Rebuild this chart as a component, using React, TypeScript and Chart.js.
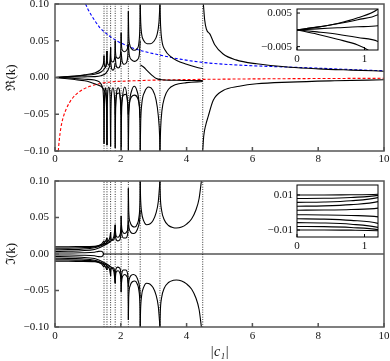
import React, { useEffect, useRef } from "react";
import Chart from "chart.js/auto";

// ---------- data ----------
const POLES = [1.49, 1.58, 1.69, 1.83, 2.01, 2.23, 2.59, 3.19, 4.49];
const X_TICKS = [0, 2, 4, 6, 8, 10];
const RE_TICKS = [-0.1, -0.05, 0, 0.05, 0.1];
const IM_TICKS = [-0.1, -0.05, 0, 0.05, 0.1];
const INSET_X_TICKS = [0, 1];
const RE_INSET_TICKS = [-0.005, 0.005];
const IM_INSET_TICKS = [-0.01, 0.01];

const reBlue = [[0.93, 0.1], [1.0, 0.093], [1.1, 0.085], [1.2, 0.078], [1.36, 0.068], [1.5, 0.062], [1.87, 0.05], [2.2, 0.043], [2.58, 0.037], [3.19, 0.0305], [3.8, 0.025], [4.4, 0.021], [5, 0.0185], [6, 0.016], [7, 0.0143], [8, 0.0127], [9, 0.0108], [10, 0.0091]];
const reRed = [[0.1, -0.1], [0.13, -0.085], [0.18, -0.068], [0.25, -0.054], [0.35, -0.042], [0.5, -0.03], [0.75, -0.019], [1.06, -0.012], [1.56, -0.0068], [2.37, -0.0045], [3, -0.0036], [4, -0.0028], [5, -0.0023], [6, -0.0019], [8, -0.0014], [10, -0.0011]];

const reInitA = [[0, 0], [0.3, 0.0008], [0.6, 0.0019], [0.9, 0.0036], [1.2, 0.0062], [1.35, 0.0095], [1.44, 0.015], [1.48, 0.022], [1.49, 0.03]];
const reInitB = [[0, 0], [0.3, 0.0008], [0.6, 0.0018], [0.9, 0.003], [1.2, 0.0045], [1.4, 0.0075], [1.5, 0.012], [1.56, 0.02], [1.58, 0.036]];
const reInitC = [[0, 0], [0.3, 0.0003], [0.6, 0.0006], [0.9, 0.0009], [1.2, 0.0012], [1.4, 0.0025], [1.55, 0.006], [1.64, 0.013], [1.68, 0.024], [1.69, 0.041]];
const reInitD = [[0, 0], [0.3, -0.0006], [0.6, -0.0013], [0.9, -0.0023], [1.2, -0.0035], [1.35, -0.006], [1.44, -0.013], [1.48, -0.035], [1.49, -0.09]];
const reInitE = [[0, 0], [0.3, -0.0013], [0.6, -0.0028], [0.9, -0.0045], [1.05, -0.006], [1.2, -0.0085], [1.4, -0.012], [1.52, -0.02], [1.57, -0.045], [1.58, -0.092]];

const reUp0 = [[1.49, 0.03], [1.5, 0.018], [1.535, 0.014], [1.57, 0.02], [1.58, 0.036]];
const reUp1 = [[1.58, 0.036], [1.59, 0.022], [1.635, 0.017], [1.68, 0.024], [1.69, 0.041]];
const reUp2 = [[1.69, 0.041], [1.7, 0.027], [1.72, 0.022], [1.76, 0.021], [1.8, 0.024], [1.82, 0.032], [1.83, 0.05]];
const reUp3 = [[1.83, 0.05], [1.84, 0.034], [1.86, 0.028], [1.92, 0.026], [1.97, 0.028], [2.0, 0.038], [2.01, 0.061]];
const reUp4 = [[2.01, 0.061], [2.02, 0.045], [2.05, 0.037], [2.12, 0.035], [2.19, 0.038], [2.22, 0.05], [2.23, 0.09]];
const reUp5 = [[2.23, 0.09], [2.24, 0.06], [2.27, 0.045], [2.33, 0.039], [2.41, 0.037], [2.49, 0.039], [2.55, 0.047], [2.58, 0.07], [2.59, 0.1]];
const reUp6 = [[2.59, 0.1], [2.605, 0.075], [2.63, 0.06], [2.7, 0.05], [2.8, 0.046], [2.9, 0.046], [3.0, 0.049], [3.1, 0.058], [3.16, 0.075], [3.19, 0.1]];
const reUpTail = [[3.19, 0.1], [3.21, 0.07], [3.25, 0.05], [3.35, 0.037], [3.5, 0.029], [3.7, 0.023], [4.0, 0.018], [4.3, 0.014], [4.49, 0.012]];
const reUpFar = [[4.51, 0.1], [4.55, 0.078], [4.6, 0.066], [4.71, 0.059], [4.85, 0.045], [5.11, 0.032], [5.5, 0.024], [6.13, 0.0186], [7.14, 0.014], [8, 0.0118], [9, 0.0101], [10, 0.0086]];
const reUpS2 = [[1.69, 0.022], [1.72, 0.012], [1.76, 0.01], [1.8, 0.012], [1.83, 0.02]];
const reUpS3 = [[1.83, 0.028], [1.86, 0.016], [1.92, 0.013], [1.98, 0.016], [2.01, 0.03]];
const reUpS4 = [[2.01, 0.035], [2.04, 0.022], [2.1, 0.018], [2.17, 0.02], [2.21, 0.028], [2.23, 0.045]];
const reUpS5 = [[2.23, 0.045], [2.26, 0.03], [2.33, 0.024], [2.42, 0.022], [2.5, 0.024], [2.56, 0.03], [2.59, 0.05]];

const reLo0 = [[1.49, -0.09], [1.5, -0.04], [1.51, -0.022], [1.535, -0.014], [1.56, -0.022], [1.57, -0.04], [1.58, -0.092]];
const reLo1 = [[1.58, -0.092], [1.59, -0.04], [1.6, -0.022], [1.635, -0.013], [1.67, -0.022], [1.68, -0.04], [1.69, -0.094]];
const reLo2 = [[1.69, -0.094], [1.7, -0.045], [1.715, -0.025], [1.76, -0.014], [1.805, -0.025], [1.82, -0.045], [1.83, -0.096]];
const reLo3 = [[1.83, -0.096], [1.84, -0.05], [1.86, -0.027], [1.92, -0.014], [1.98, -0.027], [2.0, -0.05], [2.01, -0.1]];
const reLo4 = [[2.01, -0.1], [2.02, -0.055], [2.05, -0.028], [2.12, -0.013], [2.19, -0.028], [2.22, -0.055], [2.23, -0.1]];
const reLo5 = [[2.23, -0.1], [2.24, -0.06], [2.27, -0.033], [2.33, -0.018], [2.41, -0.012], [2.49, -0.018], [2.55, -0.033], [2.58, -0.06], [2.59, -0.1]];
const reLo6 = [[2.59, -0.1], [2.605, -0.06], [2.64, -0.035], [2.72, -0.02], [2.85, -0.013], [2.97, -0.017], [3.07, -0.03], [3.14, -0.052], [3.18, -0.08], [3.19, -0.1]];
const reLoTail = [[3.19, -0.1], [3.21, -0.07], [3.25, -0.045], [3.33, -0.027], [3.45, -0.016], [3.65, -0.01], [4.0, -0.007], [4.49, -0.0055]];
const reLoFar = [[4.49, -0.1], [4.52, -0.08], [4.58, -0.065], [4.65, -0.054], [4.81, -0.031], [5.11, -0.0177], [5.6, -0.012], [6.13, -0.0086], [7.14, -0.0063], [8.5, -0.0045], [10, -0.0031]];
const reLoS3 = [[1.83, -0.05], [1.85, -0.03], [1.89, -0.022], [1.95, -0.021], [1.99, -0.03], [2.01, -0.045]];
const reLoS4 = [[2.01, -0.05], [2.03, -0.033], [2.08, -0.024], [2.15, -0.023], [2.21, -0.033], [2.23, -0.05]];
const reLoS5 = [[2.23, -0.05], [2.26, -0.035], [2.33, -0.026], [2.42, -0.024], [2.51, -0.028], [2.57, -0.04], [2.59, -0.055]];
const reDiag = [[2.6, 0.017], [2.7, 0.014], [2.8, 0.0095], [2.95, 0.003], [3.08, -0.0015], [3.25, -0.003], [3.7, -0.0038], [4.49, -0.0042]];

const imU0 = [[0, 0.01], [0.4, 0.01], [0.8, 0.0101], [1.2, 0.0104], [1.32, 0.0115], [1.42, 0.014], [1.47, 0.017], [1.49, 0.018]];
const imU1 = [[0, 0.008], [0.4, 0.0081], [0.8, 0.0086], [1.2, 0.0098], [1.35, 0.0115], [1.47, 0.014], [1.54, 0.018], [1.58, 0.022]];
const imU2 = [[0, 0.0058], [0.4, 0.006], [0.8, 0.0067], [1.2, 0.0085], [1.35, 0.0105], [1.5, 0.0135], [1.62, 0.018], [1.67, 0.023], [1.69, 0.03]];
const imU3 = [[0, 0.0036], [0.4, 0.0038], [0.8, 0.0045], [1.2, 0.0062], [1.35, 0.0085], [1.5, 0.012], [1.68, 0.017], [1.79, 0.024], [1.83, 0.04]];
const imU4 = [[0, 0.0013], [0.4, 0.0014], [0.8, 0.0017], [1.2, 0.0025], [1.32, 0.0036], [1.4, 0.0038], [1.45, 0.0025], [1.48, 0]];
const imL0 = [[0, -0.01], [0.4, -0.01], [0.8, -0.0101], [1.2, -0.0104], [1.32, -0.0115], [1.42, -0.014], [1.47, -0.017], [1.49, -0.018]];
const imL1 = [[0, -0.008], [0.4, -0.0081], [0.8, -0.0086], [1.2, -0.0098], [1.35, -0.0115], [1.47, -0.014], [1.54, -0.018], [1.58, -0.022]];
const imL2 = [[0, -0.0058], [0.4, -0.006], [0.8, -0.0067], [1.2, -0.0085], [1.35, -0.0105], [1.5, -0.0135], [1.62, -0.018], [1.67, -0.023], [1.69, -0.03]];
const imL3 = [[0, -0.0036], [0.4, -0.0038], [0.8, -0.0045], [1.2, -0.0062], [1.35, -0.0085], [1.5, -0.012], [1.68, -0.017], [1.79, -0.024], [1.83, -0.04]];
const imL4 = [[0, -0.0013], [0.4, -0.0014], [0.8, -0.0017], [1.2, -0.0025], [1.32, -0.0036], [1.4, -0.0038], [1.45, -0.0025], [1.48, 0]];

const imB0 = [[1.49, 0.018], [1.5, 0.015], [1.535, 0.013], [1.57, 0.016], [1.58, 0.022]];
const imB1 = [[1.58, 0.022], [1.59, 0.018], [1.635, 0.016], [1.68, 0.02], [1.69, 0.03]];
const imB2 = [[1.69, 0.03], [1.7, 0.023], [1.73, 0.019], [1.77, 0.019], [1.81, 0.023], [1.83, 0.04]];
const imB3 = [[1.83, 0.04], [1.84, 0.03], [1.87, 0.024], [1.92, 0.023], [1.97, 0.026], [2.0, 0.035], [2.01, 0.052]];
const imB4 = [[2.01, 0.052], [2.02, 0.04], [2.05, 0.031], [2.12, 0.028], [2.19, 0.031], [2.22, 0.045], [2.23, 0.09]];
const imB5 = [[2.23, 0.09], [2.24, 0.06], [2.28, 0.044], [2.35, 0.038], [2.43, 0.037], [2.5, 0.041], [2.55, 0.05], [2.58, 0.07], [2.59, 0.1]];
const imB6 = [[2.59, 0.1], [2.6, 0.078], [2.63, 0.058], [2.7, 0.045], [2.78, 0.04], [2.88, 0.041], [2.98, 0.046], [3.07, 0.056], [3.14, 0.072], [3.19, 0.1]];
const imB7 = [[3.19, 0.1], [3.2, 0.08], [3.24, 0.06], [3.32, 0.047], [3.45, 0.039], [3.6, 0.036], [3.69, 0.0356], [3.85, 0.037], [4.0, 0.041], [4.15, 0.048], [4.28, 0.06], [4.38, 0.076], [4.45, 0.1]];
const imSB3 = [[1.83, 0.03], [1.85, 0.021], [1.9, 0.018], [1.96, 0.019], [2.0, 0.026], [2.01, 0.035]];
const imSB4 = [[2.01, 0.038], [2.03, 0.027], [2.08, 0.022], [2.15, 0.022], [2.21, 0.028], [2.23, 0.04]];
const imSB5 = [[2.23, 0.045], [2.25, 0.036], [2.3, 0.03], [2.38, 0.028], [2.46, 0.03], [2.53, 0.037], [2.58, 0.05], [2.59, 0.06]];
const imN0 = [[1.49, -0.018], [1.5, -0.015], [1.535, -0.013], [1.57, -0.016], [1.58, -0.022]];
const imN1 = [[1.58, -0.022], [1.59, -0.018], [1.635, -0.016], [1.68, -0.02], [1.69, -0.03]];
const imN2 = [[1.69, -0.03], [1.7, -0.023], [1.73, -0.019], [1.77, -0.019], [1.81, -0.023], [1.83, -0.04]];
const imN3 = [[1.83, -0.04], [1.84, -0.03], [1.87, -0.024], [1.92, -0.023], [1.97, -0.026], [2.0, -0.035], [2.01, -0.052]];
const imN4 = [[2.01, -0.052], [2.02, -0.04], [2.05, -0.031], [2.12, -0.028], [2.19, -0.031], [2.22, -0.045], [2.23, -0.09]];
const imN5 = [[2.23, -0.09], [2.24, -0.06], [2.28, -0.044], [2.35, -0.038], [2.43, -0.037], [2.5, -0.041], [2.55, -0.05], [2.58, -0.07], [2.59, -0.1]];
const imN6 = [[2.59, -0.1], [2.6, -0.078], [2.63, -0.058], [2.7, -0.045], [2.78, -0.04], [2.88, -0.041], [2.98, -0.046], [3.07, -0.056], [3.14, -0.072], [3.19, -0.1]];
const imN7 = [[3.19, -0.1], [3.2, -0.08], [3.24, -0.06], [3.32, -0.047], [3.45, -0.039], [3.6, -0.036], [3.69, -0.0356], [3.85, -0.037], [4.0, -0.041], [4.15, -0.048], [4.28, -0.06], [4.38, -0.076], [4.45, -0.1]];
const imSN3 = [[1.83, -0.03], [1.85, -0.021], [1.9, -0.018], [1.96, -0.019], [2.0, -0.026], [2.01, -0.035]];
const imSN4 = [[2.01, -0.038], [2.03, -0.027], [2.08, -0.022], [2.15, -0.022], [2.21, -0.028], [2.23, -0.04]];
const imSN5 = [[2.23, -0.045], [2.25, -0.036], [2.3, -0.03], [2.38, -0.028], [2.46, -0.03], [2.53, -0.037], [2.58, -0.05], [2.59, -0.06]];
const imZero = [[1.45, 0], [10, 0]];

const RE_INIT = [reInitA, reInitB, reInitC, reInitD, reInitE];
const RE_BLACK = [
  ...RE_INIT,
  reUp0, reUp1, reUp2, reUp3, reUp4, reUp5, reUp6, reUpTail, reUpFar,
  reUpS2, reUpS3, reUpS4, reUpS5,
  reLo0, reLo1, reLo2, reLo3, reLo4, reLo5, reLo6, reLoTail, reLoFar,
  reLoS3, reLoS4, reLoS5, reDiag,
];
const IM_INIT = [imU0, imU1, imU2, imU3, imU4, imL0, imL1, imL2, imL3, imL4];
const IM_BLACK = [
  ...IM_INIT,
  imB0, imB1, imB2, imB3, imB4, imB5, imB6, imB7, imSB3, imSB4, imSB5,
  imN0, imN1, imN2, imN3, imN4, imN5, imN6, imN7, imSN3, imSN4, imSN5,
  imZero,
];

// ---------- helpers ----------
const FONT = "'Liberation Serif', 'DejaVu Serif', serif";
const pts = (arr: number[][]) => arr.map(([x, y]) => ({ x, y }));
const fmt = (v: number, d: number) => (v < -1e-12 ? "\u2212" : "") + Math.abs(v).toFixed(d);

function lineDs(arr: number[][], color: string, width: number, dash: number[] = []) {
  return {
    data: pts(arr),
    borderColor: color,
    borderWidth: width,
    borderDash: dash,
    pointRadius: 0,
    fill: false,
    cubicInterpolationMode: "monotone",
  };
}

function poleDs(lo: number, hi: number) {
  return POLES.map((p) =>
    lineDs([[p, lo], [p, hi]], "#000", 0.8, [1, 1.4])
  );
}

const framePlugin = {
  id: "frame",
  afterDatasetsDraw(chart: any, _args: any, opts: any) {
    const { ctx, chartArea: a, scales } = chart;
    ctx.save();
    ctx.strokeStyle = opts.color;
    ctx.lineWidth = opts.width;
    ctx.strokeRect(a.left, a.top, a.right - a.left, a.bottom - a.top);
    ctx.beginPath();
    scales.x.ticks.forEach((t: any) => {
      const px = scales.x.getPixelForValue(t.value);
      ctx.moveTo(px, a.bottom);
      ctx.lineTo(px, a.bottom - opts.tick);
    });
    scales.y.ticks.forEach((t: any) => {
      const py = scales.y.getPixelForValue(t.value);
      ctx.moveTo(a.left, py);
      ctx.lineTo(a.left + opts.tick, py);
    });
    ctx.stroke();
    ctx.restore();
  },
};

function makeConfig(o: any) {
  return {
    type: "line",
    data: { datasets: o.datasets },
    options: {
      animation: false,
      responsive: false,
      maintainAspectRatio: false,
      events: [],
      layout: { padding: o.padding },
      plugins: {
        legend: { display: false },
        tooltip: { enabled: false },
        frame: o.frame,
      },
      scales: {
        x: {
          type: "linear",
          min: o.xMin,
          max: o.xMax,
          grid: { display: false, drawTicks: false },
          border: { display: false },
          afterBuildTicks: (s: any) => {
            s.ticks = o.xTicks.map((v: number) => ({ value: v }));
          },
          ticks: {
            autoSkip: false,
            maxRotation: 0,
            padding: o.xPad,
            color: "#111",
            font: { family: FONT, size: o.fontSize },
            callback: (v: number) => String(v),
          },
          title: o.xTitle
            ? {
                display: true,
                text: o.xTitle,
                color: "#111",
                padding: { top: 0, bottom: 0 },
                font: { family: FONT, size: 14, style: "italic" },
              }
            : { display: false },
          afterFit: (s: any) => {
            s.height = o.xH;
            s.paddingLeft = 0;
            s.paddingRight = 0;
          },
        },
        y: {
          type: "linear",
          min: o.yMin,
          max: o.yMax,
          grid: { display: false, drawTicks: false },
          border: { display: false },
          afterBuildTicks: (s: any) => {
            s.ticks = o.yTicks.map((v: number) => ({ value: v }));
          },
          ticks: {
            autoSkip: false,
            padding: o.yPad,
            color: "#111",
            font: { family: FONT, size: o.fontSize },
            callback: (v: number) => fmt(v, o.yDec),
          },
          title: o.yTitle
            ? {
                display: true,
                text: o.yTitle,
                color: "#111",
                padding: { top: 4, bottom: 0 },
                font: { family: FONT, size: 13 },
              }
            : { display: false },
          afterFit: (s: any) => {
            s.width = o.yW;
            s.paddingTop = 0;
            s.paddingBottom = 0;
          },
        },
      },
    },
    plugins: [framePlugin],
  };
}

export default function App() {
  const topRef = useRef<HTMLCanvasElement>(null);
  const botRef = useRef<HTMLCanvasElement>(null);
  const topInRef = useRef<HTMLCanvasElement>(null);
  const botInRef = useRef<HTMLCanvasElement>(null);

  useEffect(() => {
    document.body.style.margin = "0";
    const charts: any[] = [];

    const topDs = [
      ...poleDs(-0.1, 0.1),
      ...RE_BLACK.map((c) => lineDs(c, "#000", 1.1)),
      lineDs(reBlue, "#0000ff", 1.1, [3, 2]),
      lineDs(reRed, "#ff0000", 1.1, [3, 2]),
    ];
    charts.push(
      new Chart(topRef.current as any, makeConfig({
        datasets: topDs,
        padding: { top: 4, right: 6, left: 0, bottom: 0 },
        xMin: 0, xMax: 10, yMin: -0.1, yMax: 0.1,
        xTicks: X_TICKS, yTicks: RE_TICKS, yDec: 2,
        xPad: 2, yPad: 6, fontSize: 11,
        xH: 19, yW: 55,
        yTitle: "\u211C(k)",
        frame: { color: "#555", width: 1.5, tick: 4 },
      }) as any)
    );

    const botDs = [
      ...poleDs(-0.1, 0.1),
      ...IM_BLACK.map((c) => lineDs(c, "#000", 1.1)),
    ];
    charts.push(
      new Chart(botRef.current as any, makeConfig({
        datasets: botDs,
        padding: { top: 11, right: 6, left: 0, bottom: 0 },
        xMin: 0, xMax: 10, yMin: -0.1, yMax: 0.1,
        xTicks: X_TICKS, yTicks: IM_TICKS, yDec: 2,
        xPad: 3, yPad: 6, fontSize: 11,
        xH: 34, yW: 55,
        yTitle: "\u2111(k)",
        xTitle: "|c\u2081|",
        frame: { color: "#555", width: 1.5, tick: 4 },
      }) as any)
    );

    charts.push(
      new Chart(topInRef.current as any, makeConfig({
        datasets: RE_INIT.map((c) => lineDs(c, "#000", 1.1)),
        padding: { top: 9, right: 7, left: 0, bottom: 0 },
        xMin: 0, xMax: 1.2, yMin: -0.006, yMax: 0.0062,
        xTicks: INSET_X_TICKS, yTicks: RE_INSET_TICKS, yDec: 3,
        xPad: 3, yPad: 5, fontSize: 11,
        xH: 20, yW: 47,
        frame: { color: "#000", width: 1, tick: 3 },
      }) as any)
    );

    charts.push(
      new Chart(botInRef.current as any, makeConfig({
        datasets: IM_INIT.map((c) => lineDs(c, "#000", 1.1)),
        padding: { top: 10, right: 7, left: 0, bottom: 0 },
        xMin: 0, xMax: 1.2, yMin: -0.014, yMax: 0.0157,
        xTicks: INSET_X_TICKS, yTicks: IM_INSET_TICKS, yDec: 2,
        xPad: 3, yPad: 4, fontSize: 11,
        xH: 18, yW: 47,
        frame: { color: "#000", width: 1, tick: 3 },
      }) as any)
    );

    return () => charts.forEach((c) => c.destroy());
  }, []);

  const abs = (l: number, t: number): React.CSSProperties => ({ position: "absolute", left: l, top: t });
  return (
    <div style={{ position: "relative", width: 390, height: 361, background: "#fff" }}>
      <canvas ref={topRef} width={390} height={170} style={abs(0, 0)} />
      <canvas ref={botRef} width={390} height={191} style={abs(0, 170)} />
      <canvas ref={topInRef} width={135} height={70} style={abs(250, 0)} />
      <canvas ref={botInRef} width={135} height={80} style={abs(250, 175)} />
    </div>
  );
}
